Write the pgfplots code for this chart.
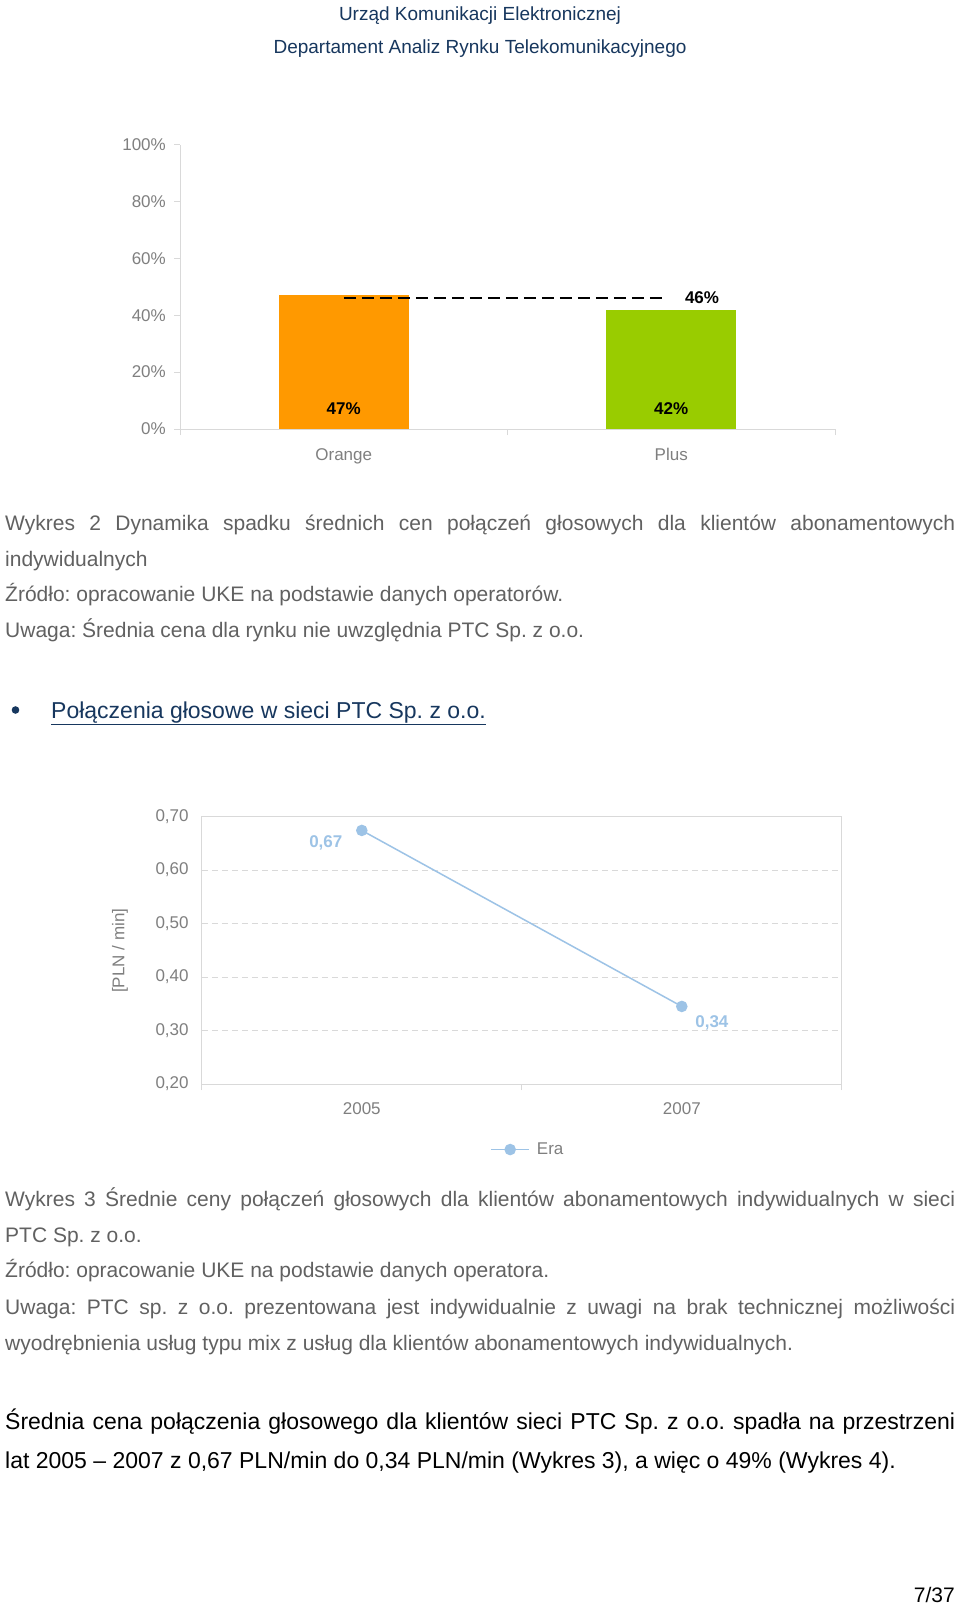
\documentclass[border=0pt]{standalone}
\usepackage{pgfplots}
\pgfplotsset{compat=1.18}
\usepackage{fontspec}
\setmainfont{Liberation Sans}
\frenchspacing

\definecolor{uke}{HTML}{17375E}
\definecolor{txtgrey}{HTML}{616161}
\definecolor{axgrey}{HTML}{7F7F7F}
\definecolor{lngrey}{HTML}{D9D9D9}
\definecolor{orng}{HTML}{FF9900}
\definecolor{lime}{HTML}{99CC00}
\definecolor{era}{HTML}{9DC3E6}
\newcommand{\fs}[1]{\fontsize{#1bp}{#1bp}\selectfont}
\newcommand{\jline}[1]{\makebox[950bp][s]{#1}}

\begin{document}
\begin{tikzpicture}
\path[fill=white, use as bounding box] (0,0) rectangle (960bp,-1606bp);

% page header
\node[anchor=base, inner sep=0, text=uke, font=\fs{19}] at (480bp,-20bp) {Urząd Komunikacji Elektronicznej};
\node[anchor=base, inner sep=0, text=uke, font=\fs{19}] at (480bp,-53bp) {Departament Analiz Rynku Telekomunikacyjnego};

% chart: share of price drop
\begin{axis}[
  at={(180bp,-429bp)}, anchor=south west,
  scale only axis, width=655bp, height=284.5bp,
  xmin=-0.5, xmax=1.5, ymin=0, ymax=100,
  axis x line*=bottom, axis y line*=left,
  axis line style={lngrey, line width=1bp, -},
  tick style={lngrey, line width=1bp},
  tick align=outside, major tick length=6bp,
  xtick={-0.5,0.5,1.5}, xticklabels={},
  extra x ticks={0,1}, extra x tick labels={Orange,Plus},
  extra x tick style={major tick length=0pt,
    xticklabel style={anchor=base, inner sep=0pt, yshift=-31bp}},
  ytick={0,20,40,60,80,100},
  yticklabels={0\%,20\%,40\%,60\%,80\%,100\%},
  yticklabel style={anchor=east, inner sep=0pt, xshift=-8bp},
  ticklabel style={font=\fs{17}, text=axgrey},
  /pgf/number format/assume math mode=true,
  clip=false,
]
\addplot[ybar, bar width=130bp, bar shift=0pt, fill=orng, draw=none] coordinates {(0,47)};
\addplot[ybar, bar width=130bp, bar shift=0pt, fill=lime, draw=none] coordinates {(1,42)};
\addplot[black, line width=2.2bp, dash pattern=on 12bp off 6bp] coordinates {(0.0,46) (0.984,46)};
\node[font=\bfseries\fs{17}] at (axis cs:0,7) {47\%};
\node[font=\bfseries\fs{17}] at (axis cs:1,7) {42\%};
\node[font=\bfseries\fs{17}] at (axis cs:1.094,46) {46\%};
\end{axis}

% caption 2
\begin{scope}[every node/.style={anchor=base west, inner sep=0, text=txtgrey, font=\fs{21}}]
\node at (5bp,-530bp) {\jline{Wykres 2 Dynamika spadku średnich cen połączeń głosowych dla klientów abonamentowych}};
\node at (5bp,-566bp) {indywidualnych};
\node at (5bp,-601bp) {Źródło: opracowanie UKE na podstawie danych operatorów.};
\node at (5bp,-637bp) {Uwaga: Średnia cena dla rynku nie uwzględnia PTC Sp. z o.o.};
\end{scope}

% bullet heading
\fill[uke] (15.5bp,-710bp) circle (3.8bp);
\node[anchor=base west, inner sep=0, text=uke, font=\fs{23}] at (51bp,-718bp) {\underline{Połączenia głosowe w sieci PTC Sp. z o.o.}};

% chart: PTC price per minute
\begin{axis}[
  at={(201.8bp,-1084bp)}, anchor=south west,
  scale only axis, width=640bp, height=267.5bp,
  xmin=-0.5, xmax=1.5, ymin=0.2, ymax=0.7,
  axis line style={lngrey, line width=1bp},
  tick style={lngrey, line width=1bp},
  xtick pos=bottom, ytick pos=left,
  tick align=outside, major tick length=6bp,
  xtick={-0.5,0.5,1.5}, xticklabels={},
  extra x ticks={0,1}, extra x tick labels={2005,2007},
  extra x tick style={major tick length=0pt, grid=none,
    xticklabel style={anchor=base, inner sep=0pt, yshift=-30bp}},
  ytick={0.2,0.3,0.4,0.5,0.6,0.7},
  yticklabels={{0,20},{0,30},{0,40},{0,50},{0,60},{0,70}},
  ytick style={draw=none},
  yticklabel style={anchor=east, inner sep=0pt, xshift=-7bp},
  ticklabel style={font=\fs{17}, text=axgrey},
  ymajorgrids, grid style={lngrey, line width=1bp, dash pattern=on 6bp off 4bp},
  ylabel={[PLN / min]},
  every axis y label/.style={at={(rel axis cs:-0.128,0.498)}, rotate=90, anchor=center, font=\fs{17}, text=axgrey},
  legend style={at={(0.5095,-0.245)}, anchor=center, draw=none, fill=none,
    font=\fs{17}, text=axgrey, inner sep=0pt},
  legend image code/.code={\draw[mark repeat=2, mark phase=2, #1] plot coordinates {(0bp,0bp) (19bp,0bp) (38bp,0bp)};},
  clip=false,
]
\addplot[era, line width=1.5bp, mark=*, mark size=5bp, mark options={fill=era, draw=era}]
  coordinates {(0,0.674) (1,0.345)};
\addlegendentry{\hspace{5bp}Era}
\node[text=era, font=\bfseries\fs{17}] at (axis cs:-0.1125,0.650) {0,67};
\node[text=era, font=\bfseries\fs{17}] at (axis cs:1.094,0.315) {0,34};
\end{axis}

% caption 3
\begin{scope}[every node/.style={anchor=base west, inner sep=0, text=txtgrey, font=\fs{21}}]
\node at (5bp,-1206bp) {\jline{Wykres 3 Średnie ceny połączeń głosowych dla klientów abonamentowych indywidualnych w sieci}};
\node at (5bp,-1242bp) {PTC Sp. z o.o.};
\node at (5bp,-1277bp) {Źródło: opracowanie UKE na podstawie danych operatora.};
\node at (5bp,-1314bp) {\jline{Uwaga: PTC sp. z o.o. prezentowana jest indywidualnie z uwagi na brak technicznej możliwości}};
\node at (5bp,-1350bp) {wyodrębnienia usług typu mix z usług dla klientów abonamentowych indywidualnych.};
\end{scope}

% body text
\begin{scope}[every node/.style={anchor=base west, inner sep=0, text=black, font=\fs{23}}]
\node at (5bp,-1429bp) {\jline{Średnia cena połączenia głosowego dla klientów sieci PTC Sp. z o.o. spadła na przestrzeni}};
\node at (5bp,-1468bp) {lat 2005 – 2007 z 0,67 PLN/min do 0,34 PLN/min (Wykres 3), a więc o 49\% (Wykres 4).};
\end{scope}

\node[anchor=base east, inner sep=0, font=\fs{21}] at (955bp,-1602bp) {7/37};
\end{tikzpicture}
\end{document}
